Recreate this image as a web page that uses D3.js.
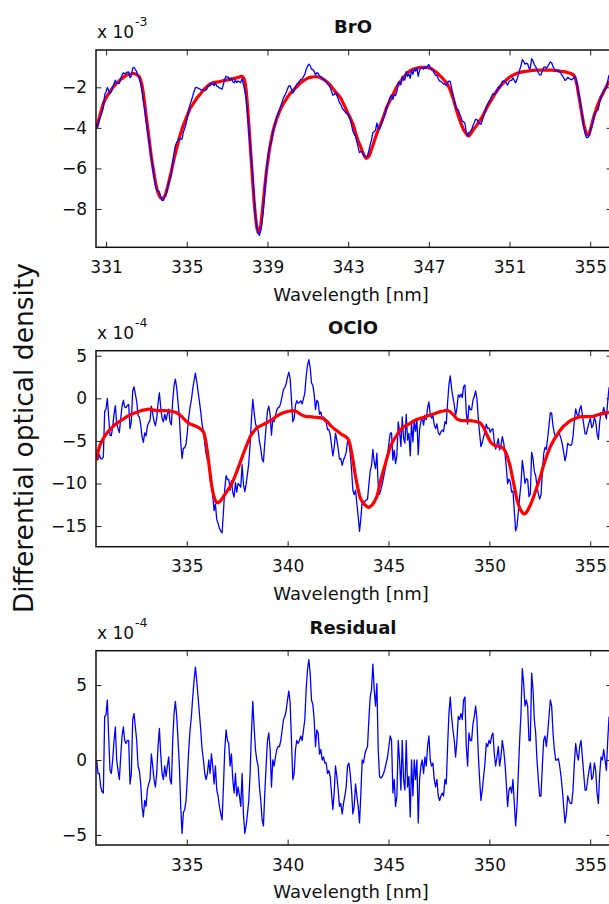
<!DOCTYPE html>
<html>
<head>
<meta charset="utf-8">
<script src="https://cdn.jsdelivr.net/npm/d3@7"></script>
<style>
  body { margin: 0; background: #fff; }
  svg { display: block; }
  text { font-family: "DejaVu Sans", sans-serif; fill: #111; }
</style>
</head>
<body>
<svg id="chart" width="609" height="904"></svg>
<script>
// Spectral sampling of the detector (nm)
const wavelengthStart = 330.533;
const wavelengthStep = 0.066148;

// Fit residual, units of 1e-4
const residual = [
  0, -0.9, -0.9, -1.8, -2.1, -2.2, 2.9, 3.0, 4.0, 1.6,
  -0.7, -0.9, 0, 1.3, 2.2, 0, -0.7, -1.3, 0.2, 1.6,
  2.2, 1.3, 1.1, 1.3, 1.3, -1.6, -0.9, 2.7, 3.1, 2.2,
  1.3, -0.4, -0.7, -1.6, -3.1, -3.8, -2.7, -3.1, -2.0, -1.6,
  -1.3, 0.4, -0.4, -1.3, -1.8, -0.9, 0.9, 2.1, 0.4, -0.9,
  -1.3, -0.4, -1.1, -0.4, 0.2, -1.3, -1.6, 1.3, 3.1, 3.9,
  2.9, 1.3, -0.4, -3.1, -4.9, -3.5, -3.3, -2.7, -1.1, 0.7,
  2.0, 2.9, 4.2, 5.3, 6.2, 5.3, 4.2, 3.1, 2.0, 0.7,
  0, -0.9, -1.3, -0.9, 0, -0.9, 0.4, -0.4, -1.6, -0.4,
  -2.0, -2.4, -3.1, -3.6, -4.0, -1.8, 0.7, 2.0, 1.3, 1.1,
  -0.4, 0.4, -1.3, -2.2, -0.9, -2.4, -1.8, -2.4, -3.1, -0.9,
  -3.6, -4.9, -4.4, -3.6, -2.7, -0.9, 1.8, 3.9, 2.2, 0.7,
  0, -0.4, -1.8, -2.7, -4.0, -4.4, -2.2, -0.4, 1.3, 1.8,
  0.7, -1.8, 0, -0.4, 0.2, 0.7, 0.9, 0.9, 1.3, 2.0,
  2.7, 2.9, 3.3, 4.0, 4.6, 3.8, 1.3, -1.3, -0.9, 0.7,
  1.3, 1.1, 1.3, 1.6, 1.3, 2.0, 2.7, 4.7, 6.0, 6.7,
  5.8, 4.0, 3.7, 2.7, 0.9, 2.0, 1.8, 0.4, 0.7, 0,
  0.2, -0.2, -0.2, -0.9, -0.7, -1.1, -2.2, -3.3, -2.2, -0.4,
  -1.1, -2.0, -3.1, -2.9, -3.6, -2.9, -2.4, -1.8, -0.4, -0.2,
  -0.9, -2.0, -3.6, -3.1, -1.6, -2.4, -3.1, -4.2, -2.2, 0,
  -0.2, 0.4, 0.7, 0.9, 2.7, 4.2, 4.7, 6.4, 4.7, 3.6,
  5.1, 0.7, -1.1, -1.2, -1.1, -0.9, -0.6, -0.2, 0.2, 0.9,
  1.6, 1.3, -2.2, -1.3, -3.1, -2.4, 1.3, 0, -2.0, 1.3,
  -1.3, -2.0, 1.3, -1.8, -1.1, -3.8, 0, -2.4, 0, -1.3,
  0, -4.2, -1.3, -0.4, 0, -0.9, 0.2, -0.4, 0.9, 1.6,
  0, -0.4, -0.2, -1.3, -1.8, -1.3, -2.4, -2.7, -2.4, -2.2,
  -2.4, -1.3, -1.6, 0.9, 3.1, 4.2, 2.9, 2.0, 1.3, 0.2,
  1.3, 2.9, 2.7, 3.1, 2.7, 4.0, 4.2, 0.9, -0.4, 1.8,
  1.3, 1.3, 2.4, 2.9, 3.6, 2.7, 0.4, -1.3, -2.7, -2.0,
  -1.1, -0.2, 1.1, 0.9, 1.3, 1.1, 1.6, 1.8, 0.4, -0.4,
  0.2, 0.9, -0.4, 0.2, 1.3, 0.7, -0.2, -1.6, -3.1, -2.0,
  -1.8, -2.2, -1.3, -2.9, -4.4, -3.1, -0.9, 1.3, 3.1, 6.1,
  5.1, 3.6, 4.0, 3.6, 1.3, 1.3, 5.8, 4.7, 2.7, 1.8,
  0, -1.3, -2.4, -2.4, -0.4, 1.3, 1.6, 0.9, 1.8, 2.9,
  4.0, 3.6, 1.8, 0.7, 0, 0, 0.1, -0.4, -1.1, -2.0,
  -3.1, -4.2, -3.6, -2.4, -2.7, -2.9, -2.9, -2.0, -0.2, 1.1,
  0.4, 0, 0.9, 1.3, 0.2, -0.9, -2.0, -2.0, -1.3, -0.7,
  -0.2, -1.3, -1.1, -0.2, -0.7, -2.2, -2.9, -0.9, 0.2, 0,
  0.7, 0, -0.7, 1.3, 2.9
];

// BrO fitted cross section, units of 1e-3
const broFit = [
  -4.0, -3.74, -3.49, -3.25, -3.02, -2.79, -2.66, -2.53, -2.41, -2.32,
  -2.22, -2.12, -2.02, -1.94, -1.87, -1.8, -1.74, -1.67, -1.61, -1.56,
  -1.51, -1.46, -1.41, -1.38, -1.37, -1.36, -1.34, -1.32, -1.32, -1.34,
  -1.36, -1.42, -1.48, -1.66, -1.9, -2.3, -2.82, -3.35, -3.87, -4.4,
  -4.92, -5.45, -5.87, -6.27, -6.65, -6.98, -7.2, -7.36, -7.45, -7.49,
  -7.45, -7.37, -7.19, -6.96, -6.69, -6.4, -6.14, -5.82, -5.53, -5.27,
  -5.0, -4.74, -4.48, -4.25, -4.06, -3.86, -3.7, -3.53, -3.37, -3.2,
  -3.04, -2.94, -2.84, -2.74, -2.64, -2.54, -2.46, -2.39, -2.31, -2.22,
  -2.13, -2.07, -2.0, -1.94, -1.89, -1.84, -1.81, -1.78, -1.76, -1.75,
  -1.74, -1.73, -1.72, -1.7, -1.69, -1.67, -1.66, -1.65, -1.63, -1.62,
  -1.61, -1.59, -1.58, -1.56, -1.55, -1.53, -1.51, -1.49, -1.46, -1.46,
  -1.52, -1.68, -2.13, -2.87, -3.78, -4.76, -5.75, -6.73, -7.63, -8.37,
  -8.9, -9.15, -9.12, -8.79, -8.21, -7.55, -6.9, -6.28, -5.75, -5.3,
  -4.88, -4.52, -4.21, -3.96, -3.75, -3.53, -3.37, -3.2, -3.05, -2.92,
  -2.79, -2.69, -2.59, -2.49, -2.4, -2.3, -2.23, -2.16, -2.1, -2.03,
  -1.97, -1.9, -1.83, -1.77, -1.72, -1.67, -1.63, -1.59, -1.56, -1.53,
  -1.51, -1.5, -1.49, -1.48, -1.48, -1.48, -1.49, -1.5, -1.53, -1.57,
  -1.61, -1.65, -1.7, -1.75, -1.82, -1.89, -1.97, -2.06, -2.14, -2.22,
  -2.3, -2.37, -2.45, -2.55, -2.68, -2.82, -2.96, -3.1, -3.24, -3.38,
  -3.5, -3.65, -3.8, -4.0, -4.25, -4.45, -4.65, -4.8, -4.95, -5.15,
  -5.3, -5.42, -5.5, -5.46, -5.4, -5.25, -5.05, -4.86, -4.66, -4.47,
  -4.27, -4.11, -3.94, -3.78, -3.61, -3.45, -3.25, -3.05, -2.89, -2.76,
  -2.63, -2.5, -2.37, -2.23, -2.1, -1.97, -1.87, -1.77, -1.68, -1.59,
  -1.51, -1.43, -1.35, -1.28, -1.23, -1.18, -1.15, -1.12, -1.09, -1.07,
  -1.05, -1.04, -1.03, -1.02, -1.02, -1.02, -1.02, -1.02, -1.03, -1.04,
  -1.05, -1.09, -1.13, -1.18, -1.23, -1.28, -1.34, -1.41, -1.47, -1.54,
  -1.61, -1.69, -1.76, -1.87, -2.0, -2.13, -2.33, -2.53, -2.74, -2.97,
  -3.2, -3.4, -3.59, -3.77, -3.94, -4.1, -4.2, -4.3, -4.37, -4.4,
  -4.32, -4.22, -4.12, -4.03, -3.94, -3.86, -3.76, -3.66, -3.55, -3.44,
  -3.32, -3.19, -3.06, -2.93, -2.82, -2.71, -2.6, -2.49, -2.38, -2.27,
  -2.17, -2.08, -1.99, -1.9, -1.83, -1.76, -1.7, -1.64, -1.58, -1.53,
  -1.48, -1.44, -1.4, -1.37, -1.34, -1.31, -1.29, -1.27, -1.25, -1.24,
  -1.23, -1.22, -1.21, -1.2, -1.19, -1.18, -1.17, -1.16, -1.16, -1.15,
  -1.15, -1.15, -1.15, -1.15, -1.15, -1.15, -1.15, -1.15, -1.15, -1.15,
  -1.15, -1.15, -1.16, -1.16, -1.17, -1.18, -1.19, -1.2, -1.21, -1.22,
  -1.23, -1.24, -1.25, -1.27, -1.29, -1.31, -1.34, -1.37, -1.45, -1.63,
  -1.89, -2.28, -2.67, -3.07, -3.45, -3.81, -4.08, -4.27, -4.35, -4.33,
  -4.1, -3.84, -3.58, -3.35, -3.15, -2.95, -2.79, -2.62, -2.48, -2.35,
  -2.22, -2.09, -1.96, -1.82, -1.68
];

// BrO measured differential optical density, units of 1e-3
const broMeasured = [
  -4.0, -3.83, -3.58, -3.43, -3.23, -3.01, -2.37, -2.23, -2.01, -2.16,
  -2.29, -2.21, -2.02, -1.81, -1.65, -1.8, -1.81, -1.8, -1.59, -1.4,
  -1.29, -1.33, -1.3, -1.25, -1.24, -1.52, -1.43, -1.05, -1.01, -1.12,
  -1.23, -1.46, -1.55, -1.82, -2.21, -2.68, -3.09, -3.66, -4.07, -4.56,
  -5.05, -5.41, -5.91, -6.4, -6.83, -7.07, -7.11, -7.15, -7.41, -7.58,
  -7.58, -7.41, -7.3, -7.0, -6.67, -6.53, -6.3, -5.69, -5.22, -4.88,
  -4.71, -4.61, -4.52, -4.56, -4.55, -4.21, -4.03, -3.8, -3.48, -3.13,
  -2.84, -2.65, -2.42, -2.21, -2.02, -2.01, -2.04, -2.08, -2.11, -2.15,
  -2.13, -2.16, -2.13, -2.03, -1.89, -1.93, -1.77, -1.82, -1.92, -1.79,
  -1.94, -1.97, -2.03, -2.06, -2.09, -1.85, -1.59, -1.45, -1.5, -1.51,
  -1.65, -1.55, -1.71, -1.78, -1.64, -1.77, -1.69, -1.73, -1.77, -1.55,
  -1.88, -2.17, -2.57, -3.23, -4.05, -4.85, -5.57, -6.34, -7.41, -8.3,
  -8.9, -9.19, -9.3, -9.06, -8.61, -7.99, -7.12, -6.32, -5.62, -5.12,
  -4.81, -4.7, -4.21, -4.0, -3.73, -3.46, -3.28, -3.11, -2.92, -2.72,
  -2.52, -2.4, -2.26, -2.09, -1.94, -1.92, -2.1, -2.29, -2.19, -1.96,
  -1.84, -1.79, -1.7, -1.61, -1.59, -1.47, -1.36, -1.12, -0.96, -0.86,
  -0.93, -1.1, -1.12, -1.21, -1.39, -1.28, -1.31, -1.46, -1.46, -1.57,
  -1.59, -1.67, -1.72, -1.84, -1.89, -2.0, -2.19, -2.39, -2.36, -2.26,
  -2.41, -2.57, -2.76, -2.84, -3.04, -3.11, -3.2, -3.28, -3.28, -3.4,
  -3.59, -3.85, -4.16, -4.31, -4.41, -4.69, -4.96, -5.22, -5.17, -5.15,
  -5.32, -5.38, -5.43, -5.37, -5.13, -4.83, -4.58, -4.22, -4.19, -4.11,
  -3.76, -4.04, -4.05, -3.9, -3.72, -3.54, -3.31, -3.07, -2.87, -2.67,
  -2.47, -2.37, -2.59, -2.36, -2.41, -2.21, -1.74, -1.77, -1.88, -1.46,
  -1.64, -1.63, -1.22, -1.46, -1.34, -1.56, -1.15, -1.36, -1.09, -1.2,
  -1.05, -1.46, -1.16, -1.06, -1.02, -1.11, -1.0, -1.06, -0.94, -0.88,
  -1.05, -1.13, -1.15, -1.31, -1.41, -1.41, -1.58, -1.68, -1.71, -1.76,
  -1.85, -1.82, -1.92, -1.78, -1.69, -1.71, -2.04, -2.33, -2.61, -2.95,
  -3.07, -3.11, -3.32, -3.46, -3.67, -3.7, -3.78, -4.21, -4.41, -4.22,
  -4.19, -4.09, -3.88, -3.74, -3.58, -3.59, -3.72, -3.79, -3.82, -3.64,
  -3.43, -3.21, -2.95, -2.84, -2.69, -2.6, -2.44, -2.31, -2.34, -2.31,
  -2.15, -1.99, -2.03, -1.88, -1.7, -1.69, -1.72, -1.8, -1.89, -1.73,
  -1.66, -1.66, -1.53, -1.66, -1.78, -1.62, -1.38, -1.14, -0.94, -0.63,
  -0.72, -0.86, -0.81, -0.84, -1.06, -1.05, -0.59, -0.69, -0.89, -0.97,
  -1.15, -1.28, -1.39, -1.39, -1.19, -1.02, -0.99, -1.06, -0.97, -0.86,
  -0.75, -0.79, -0.98, -1.09, -1.17, -1.18, -1.18, -1.24, -1.32, -1.42,
  -1.54, -1.66, -1.61, -1.51, -1.56, -1.6, -1.63, -1.57, -1.47, -1.52,
  -1.85, -2.28, -2.58, -2.94, -3.43, -3.9, -4.28, -4.47, -4.48, -4.4,
  -4.12, -3.97, -3.69, -3.37, -3.22, -3.17, -3.08, -2.71, -2.46, -2.35,
  -2.15, -2.09, -2.03, -1.69, -1.39
];

// OClO fitted cross section, units of 1e-4
const ocloFit = [
  -7.24, -6.3, -5.7, -5.3, -5.0, -4.7, -4.46, -4.23, -4.02, -3.83,
  -3.65, -3.49, -3.33, -3.19, -3.06, -2.94, -2.83, -2.72, -2.62, -2.53,
  -2.43, -2.32, -2.21, -2.12, -2.04, -1.96, -1.88, -1.81, -1.75, -1.7,
  -1.65, -1.59, -1.52, -1.47, -1.42, -1.38, -1.35, -1.32, -1.29, -1.28,
  -1.26, -1.31, -1.36, -1.39, -1.42, -1.45, -1.45, -1.45, -1.45, -1.45,
  -1.45, -1.45, -1.45, -1.46, -1.47, -1.49, -1.52, -1.55, -1.6, -1.64,
  -1.69, -1.8, -1.91, -2.04, -2.19, -2.35, -2.51, -2.67, -2.8, -2.91,
  -3.02, -3.07, -3.12, -3.18, -3.25, -3.33, -3.41, -3.49, -3.6, -3.76,
  -3.92, -4.39, -5.21, -6.3, -7.55, -8.81, -10.06, -10.96, -11.59, -12.0,
  -12.25, -12.25, -12.16, -12.0, -11.8, -11.55, -11.31, -11.08, -10.84, -10.61,
  -10.37, -10.06, -9.75, -9.39, -9.0, -8.61, -8.19, -7.77, -7.34, -6.9,
  -6.46, -6.07, -5.68, -5.29, -4.9, -4.51, -4.27, -4.04, -3.83, -3.64,
  -3.45, -3.37, -3.29, -3.21, -3.14, -3.06, -2.98, -2.9, -2.81, -2.72,
  -2.63, -2.53, -2.44, -2.33, -2.2, -2.08, -1.99, -1.9, -1.82, -1.75,
  -1.69, -1.64, -1.59, -1.55, -1.52, -1.49, -1.47, -1.45, -1.47, -1.52,
  -1.57, -1.68, -1.79, -1.89, -1.97, -2.04, -2.09, -2.14, -2.16, -2.16,
  -2.16, -2.18, -2.19, -2.21, -2.22, -2.24, -2.26, -2.27, -2.3, -2.35,
  -2.39, -2.5, -2.61, -2.76, -2.95, -3.14, -3.3, -3.45, -3.58, -3.69,
  -3.8, -3.92, -4.05, -4.17, -4.28, -4.35, -4.45, -4.55, -4.7, -4.95,
  -5.5, -6.3, -7.2, -8.2, -9.2, -9.98, -10.76, -11.43, -11.86, -12.1,
  -12.33, -12.49, -12.64, -12.77, -12.82, -12.72, -12.57, -12.41, -12.17, -11.86,
  -11.55, -10.93, -10.18, -9.52, -8.97, -8.42, -7.87, -7.32, -6.78, -6.23,
  -5.68, -5.37, -5.06, -4.78, -4.55, -4.31, -4.07, -3.84, -3.64, -3.49,
  -3.33, -3.25, -3.18, -3.1, -3.02, -2.94, -2.83, -2.72, -2.63, -2.55,
  -2.47, -2.42, -2.37, -2.31, -2.28, -2.24, -2.18, -2.11, -2.06, -2.01,
  -1.96, -1.92, -1.87, -1.82, -1.75, -1.69, -1.64, -1.59, -1.55, -1.52,
  -1.49, -1.45, -1.4, -1.42, -1.5, -1.57, -1.73, -1.88, -2.05, -2.24,
  -2.43, -2.5, -2.56, -2.6, -2.62, -2.63, -2.63, -2.63, -2.63, -2.63,
  -2.63, -2.64, -2.66, -2.69, -2.72, -2.75, -2.79, -2.84, -2.97, -3.19,
  -3.41, -3.77, -4.13, -4.46, -4.78, -5.09, -5.25, -5.4, -5.5, -5.55,
  -5.6, -5.63, -5.66, -5.72, -5.8, -5.88, -6.19, -6.5, -6.93, -7.48,
  -8.03, -8.81, -9.59, -10.37, -11.16, -11.94, -12.41, -12.88, -13.2, -13.39,
  -13.58, -13.58, -13.42, -13.15, -12.84, -12.53, -12.14, -11.75, -11.31, -10.84,
  -10.37, -9.9, -9.43, -8.93, -8.38, -7.83, -7.36, -6.9, -6.46, -6.07,
  -5.68, -5.37, -5.06, -4.78, -4.55, -4.31, -4.07, -3.84, -3.63, -3.44,
  -3.25, -3.13, -3.0, -2.88, -2.75, -2.63, -2.55, -2.47, -2.4, -2.34,
  -2.28, -2.23, -2.18, -2.16, -2.16, -2.16, -2.16, -2.16, -2.16, -2.16,
  -2.16, -2.13, -2.1, -2.06, -2.01, -1.96, -1.92, -1.88, -1.84, -1.81,
  -1.77, -1.74, -1.71, -1.68, -1.6
];

// OClO measured differential optical density, units of 1e-4
const ocloMeasured = [
  -7.24, -7.2, -6.6, -7.1, -7.1, -6.9, -1.56, -1.23, -0.02, -2.23,
  -4.35, -4.39, -3.33, -1.89, -0.86, -2.94, -3.53, -4.02, -2.42, -0.93,
  -0.23, -1.02, -1.11, -0.82, -0.74, -3.56, -2.78, 0.89, 1.35, 0.5,
  -0.35, -1.99, -2.22, -3.07, -4.52, -5.18, -4.05, -4.42, -3.29, -2.88,
  -2.56, -0.91, -1.76, -2.69, -3.22, -2.35, -0.55, 0.65, -1.05, -2.35,
  -2.75, -1.85, -2.55, -1.86, -1.27, -2.79, -3.12, -0.25, 1.5, 2.26,
  1.21, -0.5, -2.31, -5.14, -7.09, -5.85, -5.81, -5.37, -3.9, -2.21,
  -1.02, -0.17, 1.08, 2.12, 2.95, 1.97, 0.79, -0.39, -1.6, -3.06,
  -3.92, -5.29, -6.51, -7.2, -7.55, -9.71, -9.66, -11.36, -13.19, -12.4,
  -14.25, -14.65, -15.26, -15.6, -15.8, -13.35, -10.61, -9.08, -9.54, -9.51,
  -10.77, -9.66, -11.05, -11.59, -9.9, -11.01, -9.99, -10.17, -10.44, -7.8,
  -10.06, -10.97, -10.08, -8.89, -7.6, -5.41, -2.47, -0.14, -1.63, -2.94,
  -3.45, -3.77, -5.09, -5.91, -7.14, -7.46, -5.18, -3.3, -1.51, -0.92,
  -1.93, -4.33, -2.44, -2.73, -2.0, -1.38, -1.09, -1.0, -0.52, 0.25,
  1.01, 1.26, 1.71, 2.45, 3.08, 2.31, -0.17, -2.75, -2.37, -0.82,
  -0.27, -0.58, -0.49, -0.29, -0.67, -0.04, 0.61, 2.56, 3.84, 4.54,
  3.64, 1.82, 1.51, 0.49, -1.32, -0.24, -0.46, -1.87, -1.6, -2.35,
  -2.19, -2.7, -2.81, -3.66, -3.65, -4.24, -5.5, -6.75, -5.78, -4.09,
  -4.9, -5.92, -7.15, -7.07, -7.88, -7.25, -6.85, -6.35, -5.1, -5.15,
  -6.4, -8.3, -10.8, -11.3, -10.8, -12.38, -13.86, -15.63, -14.06, -12.1,
  -12.53, -12.09, -11.94, -11.87, -10.12, -8.52, -7.87, -6.01, -7.47, -8.26,
  -6.45, -10.23, -11.28, -10.72, -10.07, -9.32, -8.47, -7.52, -6.58, -5.33,
  -4.08, -4.07, -7.26, -6.08, -7.65, -6.71, -2.77, -3.84, -5.64, -2.19,
  -4.63, -5.25, -1.88, -4.9, -4.12, -6.74, -2.83, -5.12, -2.63, -3.85,
  -2.47, -6.62, -3.67, -2.71, -2.28, -3.14, -1.98, -2.51, -1.16, -0.41,
  -1.96, -2.32, -2.07, -3.12, -3.55, -2.99, -4.04, -4.29, -3.95, -3.72,
  -3.89, -2.75, -3.0, -0.52, 1.6, 2.63, 1.17, 0.12, -0.75, -2.04,
  -1.13, 0.4, 0.14, 0.5, 0.08, 1.37, 1.57, -1.73, -3.03, -0.83,
  -1.33, -1.34, -0.26, 0.21, 0.88, -0.05, -2.39, -4.14, -5.67, -5.19,
  -4.51, -3.97, -3.03, -3.56, -3.48, -3.99, -3.65, -3.6, -5.1, -5.95,
  -5.4, -4.73, -6.06, -5.52, -4.5, -5.18, -6.39, -8.1, -10.03, -9.48,
  -9.83, -11.01, -10.89, -13.27, -15.56, -15.04, -13.31, -11.58, -10.1, -7.29,
  -8.48, -9.98, -9.42, -9.55, -11.54, -11.23, -6.34, -7.05, -8.61, -9.04,
  -10.37, -11.2, -11.83, -11.33, -8.78, -6.53, -5.76, -6.0, -4.66, -3.17,
  -1.68, -1.77, -3.26, -4.08, -4.55, -4.31, -3.97, -4.24, -4.73, -5.44,
  -6.35, -7.33, -6.6, -5.28, -5.45, -5.53, -5.45, -4.47, -2.6, -1.24,
  -1.88, -2.23, -1.28, -0.86, -1.96, -3.06, -4.16, -4.16, -3.46, -2.86,
  -2.36, -3.43, -3.2, -2.26, -2.71, -4.16, -4.82, -2.78, -1.64, -1.81,
  -1.07, -1.74, -2.41, -0.38, 1.3
];

// Axis ticks for each panel
const broXTicks = [331, 335, 339, 343, 347, 351, 355];
const xTicks = [335, 340, 345, 350, 355];
const broYTicks = [-2, -4, -6, -8];
const ocloYTicks = [5, 0, -5, -10, -15];
const residualYTicks = [5, 0, -5];

const wavelength = residual.map((_, i) => wavelengthStart + i * wavelengthStep);

const svg = d3.select("#chart");
const left = 96, right = 612;
const x = d3.scaleLinear().domain([330.5, 356.08]).range([left, right]);

const panels = [
  { title: "BrO", exponent: "-3", top: 50, bottom: 247.3, yDomain: [-9.89, -0.16],
    xTicks: broXTicks, yTicks: broYTicks, fit: broFit, measured: broMeasured, fitOnTop: false },
  { title: "OClO", exponent: "-4", top: 350.7, bottom: 546.7, yDomain: [-17.42, 5.59],
    xTicks: xTicks, yTicks: ocloYTicks, fit: ocloFit, measured: ocloMeasured, fitOnTop: true },
  { title: "Residual", exponent: "-4", top: 650.7, bottom: 845, yDomain: [-5.67, 7.29],
    xTicks: xTicks, yTicks: residualYTicks, fit: null, measured: residual, fitOnTop: false }
];

const tickLen = 5.5;

panels.forEach((p, k) => {
  const y = d3.scaleLinear().domain(p.yDomain).range([p.bottom, p.top]);
  const g = svg.append("g");

  const clipId = "clip" + k;
  g.append("clipPath").attr("id", clipId)
    .append("rect").attr("x", left).attr("y", p.top)
    .attr("width", right - left).attr("height", p.bottom - p.top);

  const line = d3.line()
    .x((d, i) => x(wavelength[i]))
    .y(d => y(d));

  const plot = g.append("g").attr("clip-path", `url(#${clipId})`);
  const drawFit = () => plot.append("path").datum(p.fit)
    .attr("d", line).attr("fill", "none").attr("stroke", "#ff0000")
    .attr("stroke-width", 3.2).attr("stroke-linejoin", "round");
  const drawMeasured = () => plot.append("path").datum(p.measured)
    .attr("d", line).attr("fill", "none").attr("stroke", "#0000ff")
    .attr("stroke-width", 1.3).attr("stroke-linejoin", "round");

  if (p.fit && !p.fitOnTop) drawFit();
  drawMeasured();
  if (p.fit && p.fitOnTop) drawFit();

  // Axes with inward ticks on all four sides
  const styleAxis = sel => {
    sel.select(".domain").remove();
    sel.selectAll(".tick line").attr("stroke", "#222").attr("stroke-width", 1);
    sel.selectAll("text").attr("font-family", "DejaVu Sans, sans-serif")
      .attr("font-size", 17).attr("fill", "#111");
  };

  g.append("g").attr("transform", `translate(0,${p.bottom})`)
    .call(d3.axisBottom(x).tickValues(p.xTicks).tickSize(-tickLen).tickPadding(13.5).tickFormat(d3.format("d")))
    .call(styleAxis);
  g.append("g").attr("transform", `translate(0,${p.top})`)
    .call(d3.axisTop(x).tickValues(p.xTicks).tickSize(-tickLen).tickFormat(""))
    .call(styleAxis);
  g.append("g").attr("transform", `translate(${left},0)`)
    .call(d3.axisLeft(y).tickValues(p.yTicks).tickSize(-tickLen).tickPadding(9).tickFormat(d3.format("d")))
    .call(styleAxis);
  g.append("g").attr("transform", `translate(${right},0)`)
    .call(d3.axisRight(y).tickValues(p.yTicks).tickSize(-tickLen).tickFormat(""))
    .call(styleAxis);

  // Axes box
  g.append("rect").attr("x", left).attr("y", p.top)
    .attr("width", right - left).attr("height", p.bottom - p.top)
    .attr("fill", "none").attr("stroke", "#111").attr("stroke-width", 1.5);

  // Title
  g.append("text").attr("x", 353).attr("y", p.top - 17)
    .attr("text-anchor", "middle").attr("font-size", 18).attr("font-weight", "bold")
    .text(p.title);

  // Scale factor
  g.append("text").attr("x", 97).attr("y", p.top - 12)
    .attr("font-size", 17).text("x 10");
  g.append("text").attr("x", 135).attr("y", p.top - 24)
    .attr("font-size", 12.5).text(p.exponent);

  // x-axis label
  g.append("text").attr("x", 351).attr("y", p.bottom + 53.3)
    .attr("text-anchor", "middle").attr("font-size", 18)
    .text("Wavelength [nm]");
});

// Shared y-axis label
svg.append("text")
  .attr("transform", "translate(33,438) rotate(-90)")
  .attr("text-anchor", "middle").attr("font-size", 26.5)
  .text("Differential optical density");
</script>
</body>
</html>
